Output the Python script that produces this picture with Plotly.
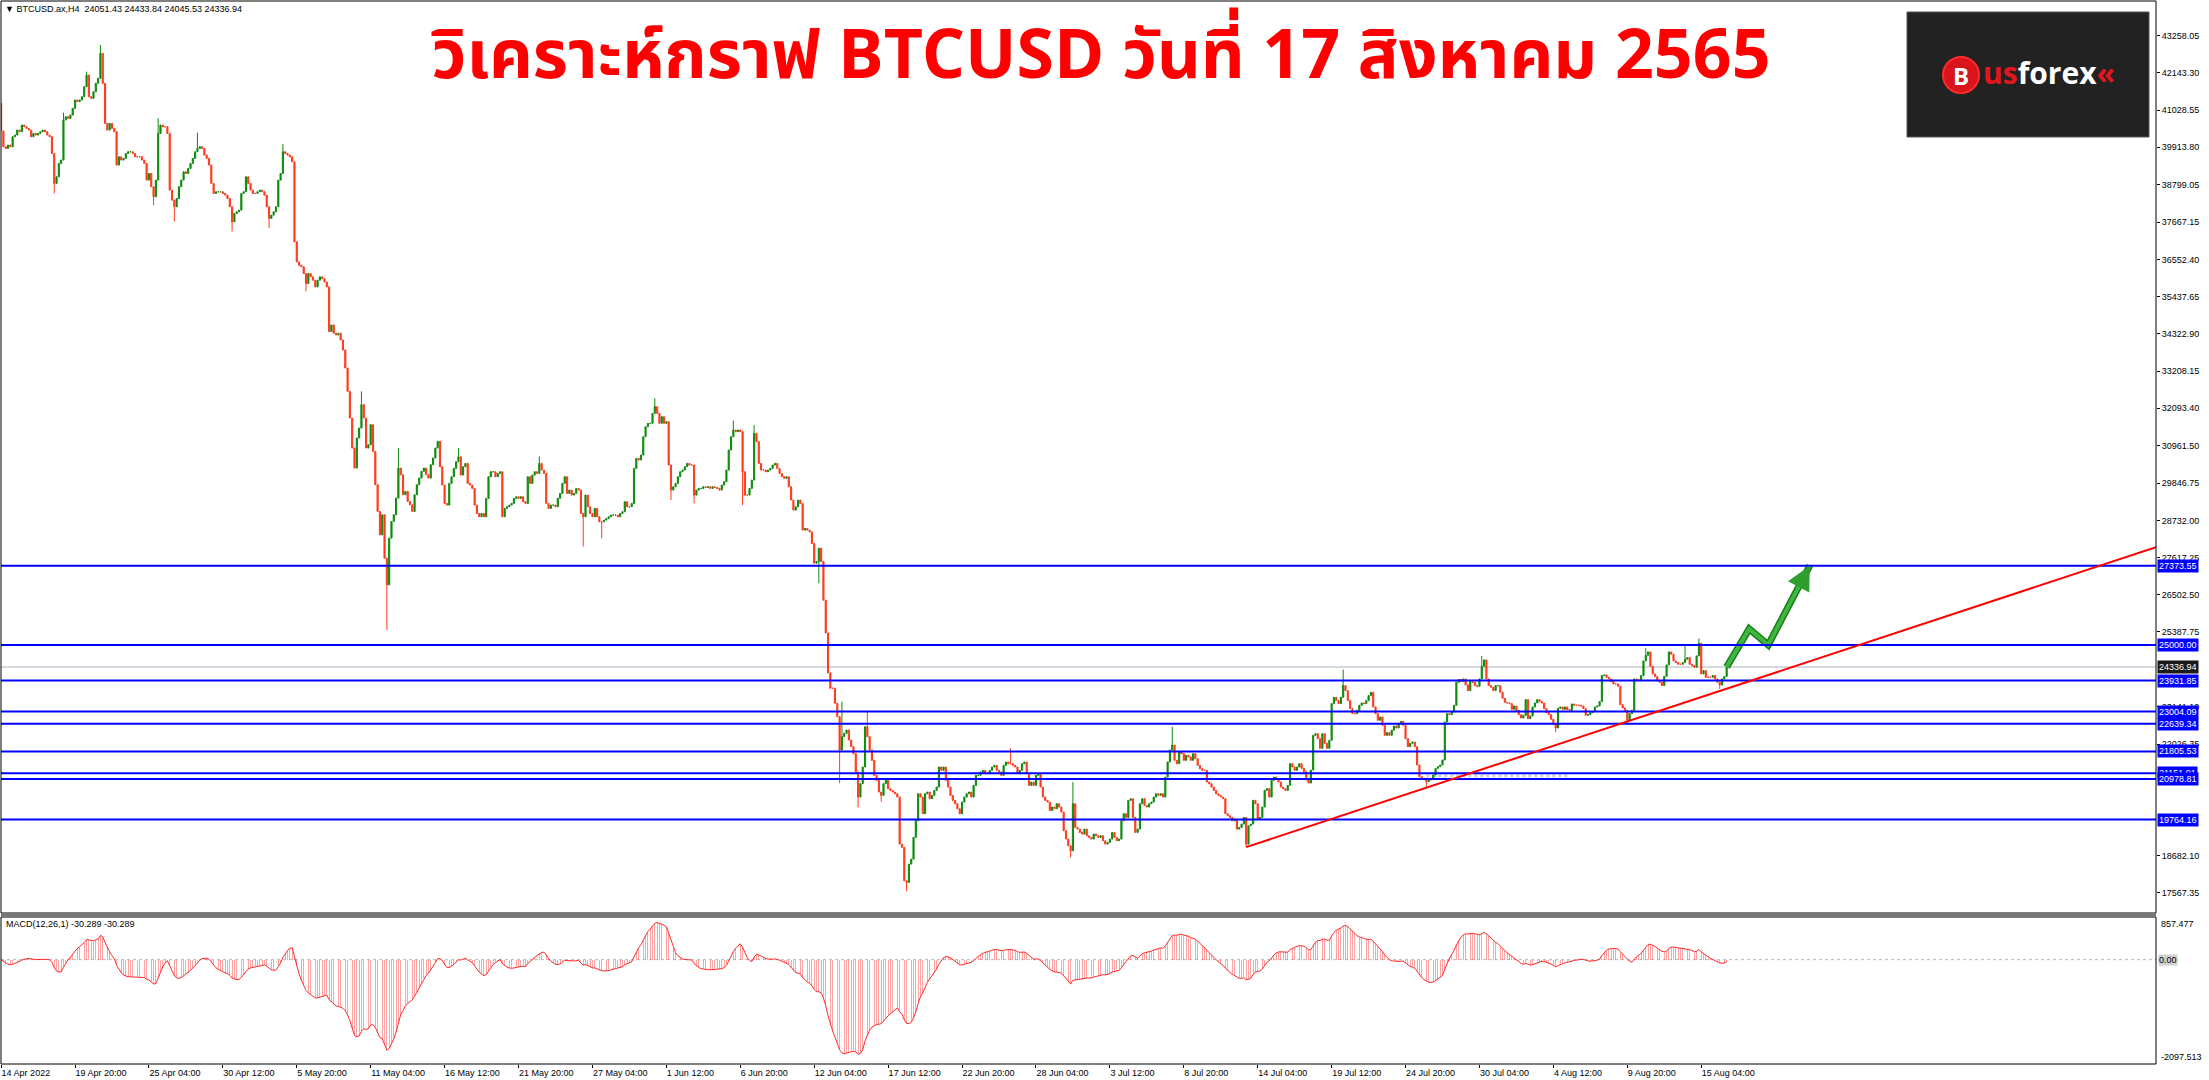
import numpy as np
import pandas as pd
import plotly.graph_objects as go

# ---------------- data ----------------
first_bar = "2022-04-14 12:00"
first_open = 41230
close_apr = [40400, 39930, 39880, 39980, 39930, 40230, 40280, 40430, 40380, 40580,
             40530, 40480, 40430, 40230, 40330, 40280, 40330, 40380, 40430, 40380,
             40280, 40230, 39730, 38830, 39030, 39430, 39530, 40730, 40830, 40780,
             40880, 41080, 41330, 41280, 41330, 41430, 41730, 42080, 41430, 41380,
             41580, 41830, 41980, 42730, 41830, 40630, 40430, 40630, 40480, 40380,
             39380, 39630, 39530, 39580, 39730, 39780, 39780, 39730, 39630, 39630,
             39630, 39530, 39430, 38930, 39130, 38730, 38430, 38930, 40330, 40580,
             40530, 40530, 40330, 38630, 38330, 38130, 38380, 38730, 38930, 39180,
             39130, 39280, 39430, 39580, 39780, 39880, 39930, 39880, 39680, 39580,
             39380, 38830, 38530, 38580, 38580, 38580, 38530, 38480, 38380]
close_may = [38130, 37680, 37930, 37980, 38030, 38530, 38580, 39030, 38830, 38630,
             38530, 38530, 38580, 38630, 38580, 38480, 38130, 37780, 37880, 37980,
             38130, 38930, 39130, 39780, 39730, 39680, 39630, 39480, 37080, 36480,
             36380, 36330, 36130, 35830, 36130, 36030, 35930, 35730, 35930, 36030,
             35980, 35880, 35730, 34390, 34590, 34340, 34290, 34340, 34140, 33840,
             33300, 32600, 31800, 30900, 30300, 31200, 31500, 32200, 31800, 30900,
             31000, 31600, 30800, 29800, 29000, 28300, 28900, 27600, 26800, 28200,
             28700, 28900, 29400, 30300, 30100, 29500, 29600, 29300, 29200, 29000,
             29500, 29800, 30000, 30200, 30300, 30100, 30000, 30400, 30600, 30900,
             31100, 30340, 29790, 29240, 29190, 29840, 30040, 30290, 30490, 30640,
             30090, 30340, 30440, 29840, 29790, 29690, 29190, 28940, 28840, 28940,
             28840, 29390, 30040, 30190, 30190, 30040, 30140, 30190, 28840, 29090,
             29140, 29190, 29240, 29390, 29440, 29390, 29440, 29290, 29240, 30040,
             29840, 30090, 30190, 30140, 30440, 30240, 30140, 29240, 29090, 29190,
             29190, 29140, 29390, 29540, 29840, 30040, 29540, 29640, 29490, 29540,
             29690, 29640, 28940, 28840, 29490, 29140, 28940, 28840, 29090, 28840,
             28690, 28690, 28740, 28790, 28840, 28890, 28890, 28890, 28840, 28940,
             28990, 29290, 29140, 29140, 29240, 30290, 30590, 30540, 30690, 31240,
             31540, 31640, 31640, 31940, 32140, 31940]
close_jun = [31640, 31840, 31640, 31690, 30390, 29640, 29740, 29840, 30040, 30190,
             30240, 30340, 30440, 30390, 30390, 29490, 29640, 29690, 29690, 29740,
             29720, 29740, 29690, 29740, 29720, 29690, 29640, 29790, 29890, 30240,
             30840, 31240, 31440, 31390, 31440, 31390, 30190, 29490, 29490, 29690,
             29940, 31340, 31090, 30440, 30240, 30240, 30190, 30240, 30290, 30390,
             30440, 30290, 30140, 30040, 29990, 30040, 29740, 29340, 29040, 29140,
             29340, 29240, 28440, 28490, 28440, 28390, 28040, 27450, 27500, 27900,
             27500, 26340, 25360, 24160, 23700, 23700, 23250, 22850, 21850, 22250,
             22350, 22450, 22150, 21950, 21740, 21190, 20440, 20840, 21340, 22550,
             22250, 21850, 21540, 21090, 20940, 20590, 20490, 20840, 20940, 20690,
             20640, 20590, 20540, 20440, 19030, 18930, 17930, 17880, 18430, 18580,
             19230, 19730, 20540, 20440, 19940, 20540, 20590, 20390, 20490, 20640,
             20740, 21340, 21240, 21340, 20940, 20740, 20490, 20340, 20240, 20090,
             19940, 20290, 20440, 20540, 20590, 20440, 20790, 21090, 21090, 21190,
             21240, 21140, 21140, 21240, 21340, 21390, 21240, 21190, 21090, 21390,
             21490, 21440, 21440, 21390, 21340, 21140, 21240, 21440, 21490, 21140,
             20790, 20890, 20790, 21090, 21140, 20740, 20440, 20340, 20290, 20040,
             20140, 20090, 20240, 20140, 19990, 19430, 19180, 18980, 18830, 20240]
close_jul = [19530, 19480, 19380, 19330, 19480, 19280, 19230, 19180, 19330, 19280,
             19230, 19280, 19130, 19030, 19080, 19180, 19380, 19230, 19130, 19180,
             19730, 19940, 19830, 20340, 20390, 19830, 19380, 19480, 20240, 20390,
             20190, 20140, 20240, 20290, 20440, 20540, 20490, 20540, 20440, 21040,
             21490, 21850, 22000, 21540, 21440, 21790, 21740, 21540, 21690, 21640,
             21540, 21740, 21590, 21390, 21290, 21240, 21240, 20890, 20840, 20740,
             20640, 20540, 20490, 20440, 20390, 19940, 19880, 19830, 19730, 19780,
             19480, 19530, 19630, 19830, 19030, 19580, 19630, 20340, 20240, 19780,
             19830, 20140, 20640, 20690, 20440, 20940, 21040, 20990, 20890, 20740,
             20690, 20640, 20790, 21440, 21340, 21240, 21340, 21440, 21300, 21200,
             20950, 20860, 21250, 22290, 22340, 22190, 21900, 22340, 22050, 21900,
             22140, 23240, 23430, 23330, 23240, 23430, 23780, 23630, 23330, 23090,
             22940, 22940, 23040, 23190, 23260, 23240, 23330, 23480, 23580, 23140,
             22940, 22740, 22840, 22590, 22290, 22370, 22290, 22440, 22570, 22510,
             22640, 22710, 22590, 22190, 21950, 22050, 22090, 21950, 21400, 21050,
             21000, 21000, 20900, 20950, 21000, 21100, 21300, 21350, 21400, 21550,
             22690, 22940, 22910, 22990, 23190, 23880, 23960, 23900, 23980, 23800,
             23630, 23900, 23880, 23780, 23760, 23980, 24360, 24550, 23980, 23780,
             23730, 23630, 23780, 23780, 23580, 23400]
close_aug = [23280, 23260, 23240, 23070, 23170, 23040, 22910, 22810, 22890, 23360,
             22790, 22870, 23140, 23260, 23360, 23300, 23260, 23090, 22970, 22910,
             22770, 22610, 22510, 23100, 23140, 23070, 23140, 23060, 23040, 23230,
             23190, 23190, 23190, 23170, 23090, 22890, 22910, 22970, 23010, 23140,
             23170, 23300, 24080, 24100, 24030, 23980, 23900, 23830, 23830, 23760,
             23210, 23110, 23040, 22740, 22940, 23040, 23980, 23960, 23930, 24080,
             24520, 24690, 24790, 24360, 24130, 24050, 23930, 23880, 23780, 24060,
             24400, 24790, 24720, 24520, 24470, 24420, 24420, 24470, 24570, 24620,
             24420, 24380, 24330, 24670, 25050, 24130, 24230, 24030, 24030, 24030,
             24080, 23980, 23880, 23800, 23980, 24050, 24336.94]
last_bar_ohlc = [24051.43, 24433.84, 24045.53, 24336.94]

# wick extremes that stand out on the picture (bar index -> price)
wick_high = {27: 40950, 37: 42180, 43: 42980, 68: 40780, 85: 40350, 122: 40010,
             156: 32600, 172: 30900, 198: 30900, 233: 30650, 283: 32390, 317: 31720,
             326: 31590, 364: 23300, 375: 23000, 437: 21900, 464: 20890, 507: 22550,
             581: 24260, 641: 24670, 712: 24900, 729: 25020, 735: 25190}
wick_low = {23: 38530, 66: 38180, 75: 37690, 100: 37390, 116: 37490, 132: 35600,
            167: 25450, 252: 27950, 260: 28190, 290: 29340, 300: 29240, 321: 29190,
            354: 26850, 363: 20850, 371: 20130, 381: 20300, 392: 17620, 463: 18630,
            539: 18940, 617: 20750, 673: 22390, 704: 22650, 744: 23680}

price_ticks = [43258.05, 42143.30, 41028.55, 39913.80, 38799.05, 37667.15, 36552.40,
               35437.65, 34322.90, 33208.15, 32093.40, 30961.50, 29846.75, 28732.00,
               27617.25, 26502.50, 25387.75, 23141.10, 22026.35, 18682.10, 17567.35]
level_prices = [27373.55, 25000.00, 23931.85, 23004.09, 22639.34, 21805.53,
                21151.91, 20978.81, 19764.16]
current_price = 24336.94

trend_times = ["2022-07-13 08:00", "2022-09-12 22:00"]
trend_prices = [18940, 27373.55]
arrow_times = ["2022-08-17 00:00", "2022-08-18 15:00", "2022-08-20 00:00", "2022-08-23 00:00"]
arrow_prices = [24337, 25480, 25000, 27374]
marker_seg_times = ["2022-07-26 08:00", "2022-08-05 12:00"]
marker_seg_price = 21080

date_ticks = ["2022-04-14 12:00", "2022-04-19 20:00", "2022-04-25 04:00", "2022-04-30 12:00",
              "2022-05-05 20:00", "2022-05-11 04:00", "2022-05-16 12:00", "2022-05-21 20:00",
              "2022-05-27 04:00", "2022-06-01 12:00", "2022-06-06 20:00", "2022-06-12 04:00",
              "2022-06-17 12:00", "2022-06-22 20:00", "2022-06-28 04:00", "2022-07-03 12:00",
              "2022-07-08 20:00", "2022-07-14 04:00", "2022-07-19 12:00", "2022-07-24 20:00",
              "2022-07-30 04:00", "2022-08-04 12:00", "2022-08-09 20:00", "2022-08-15 04:00"]
date_labels = ["14 Apr 2022", "19 Apr 20:00", "25 Apr 04:00", "30 Apr 12:00", "5 May 20:00",
               "11 May 04:00", "16 May 12:00", "21 May 20:00", "27 May 04:00", "1 Jun 12:00",
               "6 Jun 20:00", "12 Jun 04:00", "17 Jun 12:00", "22 Jun 20:00", "28 Jun 04:00",
               "3 Jul 12:00", "8 Jul 20:00", "14 Jul 04:00", "19 Jul 12:00", "24 Jul 20:00",
               "30 Jul 04:00", "4 Aug 12:00", "9 Aug 20:00", "15 Aug 04:00"]
macd_top, macd_bottom = 857.477, -2097.513
header_text = "▼ BTCUSD.ax,H4  24051.43 24433.84 24045.53 24336.94"
macd_text = "MACD(12,26,1) -30.289 -30.289"
title_text = "วิเคราะห์กราฟ BTCUSD วันที่ 17 สิงหาคม 2565"

# ---------------- build OHLC ----------------
closes = np.array(close_apr + close_may + close_jun + close_jul + close_aug, dtype=float)
n = len(closes)
times = pd.date_range(first_bar, periods=n, freq="4h")
opens = np.r_[first_open, closes[:-1]]
opens[-1] = last_bar_ohlc[0]
highs = np.maximum(opens, closes)
lows = np.minimum(opens, closes)
for k, v in wick_high.items():
    highs[k] = max(highs[k], v)
for k, v in wick_low.items():
    lows[k] = min(lows[k], v)
highs[-1] = last_bar_ohlc[1]
lows[-1] = last_bar_ohlc[2]

cs = pd.Series(closes)
macd = (cs.ewm(span=12, adjust=False).mean() - cs.ewm(span=26, adjust=False).mean()).values

# ---------------- geometry ----------------
W, H = 2209, 1080
PL, PR, PT, PB = 1, 2156, 1, 1064


def fx(px):
    return (px - PL) / (PR - PL)


def fy(py):
    return (PB - py) / (PB - PT)


main_dom = [fy(913), 1.0]
macd_dom = [0.0, fy(917)]
x_start = pd.Timestamp(first_bar) - pd.Timedelta(minutes=10)
x_end = pd.Timestamp("2022-09-16 23:30")
y_range = [16965, 44298]

GREEN = "#0c8c0c"
RED = "#ff3a1c"
BLUE = "#0000ff"
FONT = "Liberation Sans, Arial, sans-serif"

fig = go.Figure()
fig.add_trace(go.Candlestick(
    x=times, open=opens, high=highs, low=lows, close=closes,
    increasing=dict(line=dict(color=GREEN, width=1), fillcolor=GREEN),
    decreasing=dict(line=dict(color=RED, width=1), fillcolor=RED),
    whiskerwidth=0, xaxis="x", yaxis="y", hoverinfo="skip", showlegend=False))

fig.add_trace(go.Bar(
    x=times, y=macd, xaxis="x", yaxis="y2", width=4 * 3600 * 1000 * 0.35,
    marker=dict(color="rgba(255,90,90,0.55)", line=dict(width=0)),
    hoverinfo="skip", showlegend=False))
fig.add_trace(go.Scatter(
    x=times, y=macd, xaxis="x", yaxis="y2", mode="lines",
    line=dict(color="#ff2a2a", width=1), hoverinfo="skip", showlegend=False))

# green projection arrow
fig.add_trace(go.Scatter(x=arrow_times, y=arrow_prices, mode="lines",
                         line=dict(color="#1b7a1b", width=7), hoverinfo="skip", showlegend=False))
fig.add_trace(go.Scatter(x=arrow_times, y=arrow_prices, mode="lines",
                         line=dict(color="#3db83d", width=4), hoverinfo="skip", showlegend=False))

shapes = []
for p in level_prices:
    shapes.append(dict(type="line", xref="paper", x0=0, x1=1, yref="y", y0=p, y1=p,
                       line=dict(color=BLUE, width=2), layer="above"))
shapes.append(dict(type="line", xref="paper", x0=0, x1=1, yref="y", y0=current_price,
                   y1=current_price, line=dict(color="#aab4c0", width=1), layer="below"))
shapes.append(dict(type="line", xref="x", x0=marker_seg_times[0], x1=marker_seg_times[1],
                   yref="y", y0=marker_seg_price, y1=marker_seg_price,
                   line=dict(color="rgba(170,170,170,0.55)", width=3, dash="dot"), layer="below"))
t0, t1 = pd.Timestamp(trend_times[0]), pd.Timestamp(trend_times[1])
p_end = trend_prices[0] + (trend_prices[1] - trend_prices[0]) * (x_end - t0) / (t1 - t0)
shapes.append(dict(type="line", xref="x", x0=trend_times[0], x1=x_end, yref="y",
                   y0=trend_prices[0], y1=p_end, line=dict(color="#ff0000", width=2), layer="above"))
shapes.append(dict(type="line", xref="paper", x0=0, x1=1, yref="y2", y0=0, y1=0,
                   line=dict(color="#b8b8b8", width=1, dash="dot"), layer="below"))
shapes.append(dict(type="rect", xref="paper", yref="paper", x0=0, x1=1, y0=main_dom[0], y1=1,
                   line=dict(color="#000000", width=1)))
shapes.append(dict(type="rect", xref="paper", yref="paper", x0=0, x1=1, y0=0, y1=macd_dom[1],
                   line=dict(color="#000000", width=1)))
shapes.append(dict(type="rect", xref="paper", yref="paper", x0=0, x1=1, y0=macd_dom[1],
                   y1=main_dom[0], line=dict(width=0), fillcolor="#777777"))
# logo
shapes.append(dict(type="rect", xref="paper", yref="paper", x0=fx(1907), x1=fx(2149),
                   y0=fy(137), y1=fy(12), line=dict(color="#555555", width=1), fillcolor="#222222"))
shapes.append(dict(type="circle", xref="paper", yref="paper", x0=fx(1943), x1=fx(1979),
                   y0=fy(93), y1=fy(57), line=dict(color="#ff2a2a", width=2), fillcolor="#d9141c"))

annotations = []
for p in level_prices:
    annotations.append(dict(x=1, xref="paper", xanchor="left", xshift=1, y=p, yref="y",
                            text=f"{p:.2f}", showarrow=False, bgcolor=BLUE, borderpad=1,
                            font=dict(family=FONT, size=9, color="#ffffff")))
annotations.append(dict(x=1, xref="paper", xanchor="left", xshift=1, y=current_price, yref="y",
                        text=f"{current_price:.2f}", showarrow=False, bgcolor="#1a1a1a",
                        borderpad=1, font=dict(family=FONT, size=9, color="#ffffff")))
annotations.append(dict(x=1, xref="paper", xanchor="left", xshift=3, y=macd_top, yref="y2",
                        yanchor="top", text=f"{macd_top:.3f}", showarrow=False,
                        font=dict(family=FONT, size=9, color="#000000")))
annotations.append(dict(x=1, xref="paper", xanchor="left", xshift=2, y=0, yref="y2",
                        text="0.00", showarrow=False, bgcolor="#d0d0d0", borderpad=0,
                        font=dict(family=FONT, size=9, color="#000000")))
annotations.append(dict(x=1, xref="paper", xanchor="left", xshift=3, y=macd_bottom, yref="y2",
                        yanchor="bottom", text=f"{macd_bottom:.3f}", showarrow=False,
                        font=dict(family=FONT, size=9, color="#000000")))
annotations.append(dict(x=fx(3), xref="paper", xanchor="left", y=fy(2), yref="paper",
                        yanchor="top", text=header_text, showarrow=False,
                        font=dict(family=FONT, size=9, color="#000000")))
annotations.append(dict(x=fx(4), xref="paper", xanchor="left", y=fy(917), yref="paper",
                        yanchor="top", text=macd_text, showarrow=False,
                        font=dict(family=FONT, size=9, color="#000000")))
annotations.append(dict(x=fx(1101), xref="paper", xanchor="center", y=fy(58), yref="paper",
                        yanchor="middle", text=f"<b>{title_text}</b>", showarrow=False,
                        font=dict(family="Noto Sans Thai, Loma, Garuda, Noto Sans, sans-serif",
                                  size=68, color="#ff0000")))
annotations.append(dict(x=fx(1961), xref="paper", xanchor="center", y=fy(75.5), yref="paper",
                        yanchor="middle", text="<b>B</b>", showarrow=False,
                        font=dict(family="Open Sans, sans-serif", size=24, color="#ffffff")))
annotations.append(dict(x=fx(1981), xref="paper", xanchor="left", y=fy(73), yref="paper",
                        yanchor="middle",
                        text="<b><span style='color:#e3161e'>us</span>forex<span style='color:#e3161e'>«</span></b>",
                        showarrow=False,
                        font=dict(family="Open Sans, sans-serif", size=30, color="#ffffff")))
a_back = pd.Timestamp(arrow_times[2]) + 0.8 * (pd.Timestamp(arrow_times[3]) - pd.Timestamp(arrow_times[2]))
a_back_p = arrow_prices[2] + 0.8 * (arrow_prices[3] - arrow_prices[2])
annotations.append(dict(x=arrow_times[3], y=arrow_prices[3], xref="x", yref="y",
                        ax=a_back, ay=a_back_p, axref="x", ayref="y", text="",
                        showarrow=True, arrowhead=2, arrowsize=1.2, arrowwidth=4,
                        arrowcolor="#2e9e2e"))

fig.update_layout(
    width=W, height=H,
    margin=dict(l=PL, r=W - PR, t=PT, b=H - PB, pad=0),
    paper_bgcolor="#ffffff", plot_bgcolor="#ffffff",
    showlegend=False, hovermode=False, bargap=0,
    xaxis=dict(type="date", range=[x_start, x_end], anchor="y2", showgrid=False,
               zeroline=False, rangeslider=dict(visible=False),
               tickvals=date_ticks, ticktext=date_labels, ticks="outside", ticklen=3,
               tickcolor="#000000", ticklabelposition="outside right",
               tickfont=dict(family=FONT, size=9, color="#000000"),
               showline=False),
    yaxis=dict(domain=main_dom, range=y_range, side="right", anchor="x", showgrid=False,
               zeroline=False, tickvals=price_ticks, ticktext=[f"{v:.2f}" for v in price_ticks],
               ticks="outside", ticklen=3, tickcolor="#000000",
               tickfont=dict(family=FONT, size=9, color="#000000"), showline=False),
    yaxis2=dict(domain=macd_dom, range=[macd_bottom, macd_top], side="right", anchor="x",
                showgrid=False, zeroline=False, showticklabels=False, ticks=""),
    shapes=shapes, annotations=annotations,
)

fig.write_html("out.html", config={"displayModeBar": False},
               post_script="document.body.style.margin='0px';")
